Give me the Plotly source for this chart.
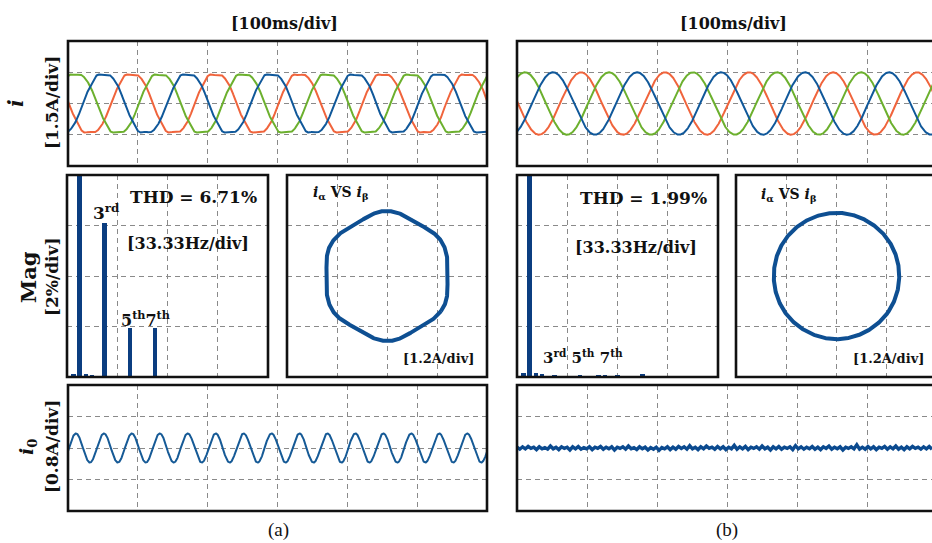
import numpy as np
import plotly.graph_objects as go

W, H = 932, 543

# ---------------- data ----------------
TIME_RANGE_MS = [0, 600]          # 6 div x 100 ms/div
F1_HZ = 8.33                      # 5 cycles over 600 ms
I1_PEAK_A = 1.5                   # phase current amplitude (1 div at 1.5 A/div)
PHASE_A_PEAK_MS = 11.4            # first peak of the green trace
PHASE_NAMES = ["a", "b", "c"]
PHASE_COLORS = ["#6cb02e", "#10589a", "#f0643c"]
HARM_ORDERS = [1, 3, 5, 7]
HARM_PCT_A = [100, 6.1, 1.95, 1.95]
HARM_PCT_B = [100, 0.08, 0.08, 0.08]
HARM_PHASE_DEG = [0, 180, 140, 220]

SPEC_A_FREQ_HZ = [4.17, 8.33, 12.5, 16.67, 25.0, 41.67, 58.33]
SPEC_A_MAG_PCT = [0.12, 100, 0.10, 0.09, 6.1, 1.95, 1.95]
SPEC_B_FREQ_HZ = [4.17, 8.33, 12.5, 16.67, 25.0, 41.67, 54.17, 58.33, 66.67, 83.33]
SPEC_B_MAG_PCT = [0.15, 100, 0.15, 0.12, 0.08, 0.08, 0.08, 0.08, 0.08, 0.12]

I0_A_AMP_A = 0.37                 # zero-sequence current (a), 3rd harmonic
I0_A_PEAK_MS = 11.4
I0_B_NOISE_A = [
    0.02, -0.03, 0.03, -0.02, 0.04, -0.01, 0.02, -0.04, 0.03, -0.02, 0.01, -0.03, 0.05, -0.02, 0.02,
    -0.04, 0.03, -0.01, 0.02, -0.05, 0.03, -0.02, 0.04, -0.03, 0.01, -0.02, 0.03, -0.04, 0.02, -0.01,
    0.04, -0.03, 0.02, -0.02, 0.03, -0.05, 0.02, -0.01, 0.03, -0.03, 0.05, -0.02, 0.01, -0.04, 0.03,
    -0.02, 0.02, -0.05, 0.01, -0.03, 0.02, -0.06, 0.01, -0.02, 0.03, -0.04, 0.02, -0.03, 0.04, -0.01,
    0.03, -0.03, 0.06, -0.02, 0.02, -0.04, 0.03, -0.02, 0.05, -0.01, 0.02, -0.03, 0.04, -0.02, 0.03,
    -0.04, 0.02, -0.02, 0.07, -0.03, 0.03, -0.02, 0.04, -0.04, 0.02, -0.01, 0.03, -0.03, 0.05, -0.02,
    0.02, -0.05, 0.03, -0.02, 0.04, -0.03, 0.02, -0.01, 0.03, -0.04, 0.06, -0.02, 0.03, -0.03, 0.02,
    -0.02, 0.04, -0.03, 0.02, -0.04, 0.03, -0.01, 0.05, -0.03, 0.02, -0.02, 0.03, -0.05, 0.02, -0.01,
    0.03, -0.02, 0.08, -0.03, 0.02, -0.03, 0.04, -0.02, 0.03, -0.04, 0.02, -0.01, 0.04, -0.03, 0.03,
    -0.02, 0.05, -0.03, 0.02, -0.04, 0.03, -0.02, 0.04, -0.01, 0.02, -0.03, 0.03, -0.02, 0.04, -0.03,
]

# ---------------- signal reconstruction from the harmonic table ----------------
t_ms = np.linspace(TIME_RANGE_MS[0], TIME_RANGE_MS[1], 2401)
t_per = np.linspace(0, 1000.0 / F1_HZ, 721)


def phase_currents(t, pct):
    theta = 2 * np.pi * F1_HZ * (t - PHASE_A_PEAK_MS) / 1000.0
    out = []
    for k in range(3):
        th = theta - 2 * np.pi * k / 3
        s = np.zeros_like(t)
        for n, p, ph in zip(HARM_ORDERS, pct, HARM_PHASE_DEG):
            s += I1_PEAK_A * p / 100.0 * np.cos(n * th + np.radians(ph))
        out.append(s)
    return out


def clarke(ia, ib, ic):
    return (2.0 / 3.0) * (ia - 0.5 * ib - 0.5 * ic), (ib - ic) / np.sqrt(3)


# ---------------- pixel geometry helpers ----------------
def px(x):
    return x / W


def py(y):
    return 1 - y / H


GRID = dict(showgrid=True, gridcolor="#8a8a8a", gridwidth=1, griddash="5px,4px",
            zeroline=False, showline=False, showticklabels=False, ticks="", fixedrange=True)

fig = go.Figure()
layout_axes = {}
shapes = []


def add_axes(idx, xdom_px, ydom_px, xr, yr, xdt, ydt, frame_right=None):
    sfx = "" if idx == 1 else str(idx)
    layout_axes["xaxis" + sfx] = dict(domain=[px(xdom_px[0]), min(1.0, px(xdom_px[1]))], range=xr,
                                      dtick=xdt, tick0=0, anchor="y" + sfx, **GRID)
    layout_axes["yaxis" + sfx] = dict(domain=[py(ydom_px[1]), py(ydom_px[0])], range=yr,
                                      dtick=ydt, tick0=0, anchor="x" + sfx, **GRID)
    right = frame_right if frame_right is not None else xdom_px[1]
    shapes.append(dict(type="rect", xref="paper", yref="paper",
                       x0=px(xdom_px[0]), x1=px(right), y0=py(ydom_px[1]), y1=py(ydom_px[0]),
                       line=dict(color="#111111", width=2.6), layer="above"))
    return ("x" + sfx, "y" + sfx)


# right-hand panels run past the picture edge
B_LEFT, B_RIGHT_FULL = 517, 937
vis_ms = 600 * (W - B_LEFT) / (B_RIGHT_FULL - B_LEFT)
L_LEFT, L_RIGHT_FULL = 736, 937
vis_a = -2.4 + 4.8 * (W - L_LEFT) / (L_RIGHT_FULL - L_LEFT)

ax_top_a = add_axes(1, (68, 487), (41, 166), [0, 600], [-3, 3], 100, 1.5)
ax_top_b = add_axes(2, (B_LEFT, W), (41, 166), [0, vis_ms], [-3, 3], 100, 1.5, B_RIGHT_FULL + 3)
ax_sp_a = add_axes(3, (67, 268), (175, 377), [0, 133.33], [0, 8], 33.333, 2)
ax_li_a = add_axes(4, (287, 487), (175, 377), [-2.4, 2.4], [-2.4, 2.4], 1.2, 1.2)
ax_sp_b = add_axes(5, (517, 718), (175, 377), [0, 133.33], [0, 8], 33.333, 2)
ax_li_b = add_axes(6, (L_LEFT, W), (175, 377), [-2.4, vis_a], [-2.4, 2.4], 1.2, 1.2, L_RIGHT_FULL + 3)
ax_bt_a = add_axes(7, (68, 487), (385, 511), [0, 600], [-1.6, 1.6], 100, 0.8)
ax_bt_b = add_axes(8, (B_LEFT, W), (385, 511), [0, vis_ms], [-1.6, 1.6], 100, 0.8, B_RIGHT_FULL + 3)

# ---------------- traces ----------------
for (xa, ya), pct in ((ax_top_a, HARM_PCT_A), (ax_top_b, HARM_PCT_B)):
    cur = phase_currents(t_ms, pct)
    for k in (2, 0, 1):
        fig.add_trace(go.Scatter(x=t_ms, y=cur[k], mode="lines", xaxis=xa, yaxis=ya,
                                 line=dict(color=PHASE_COLORS[k], width=2), showlegend=False,
                                 name=f"i{PHASE_NAMES[k]}"))

for (xa, ya), f, m in ((ax_sp_a, SPEC_A_FREQ_HZ, SPEC_A_MAG_PCT), (ax_sp_b, SPEC_B_FREQ_HZ, SPEC_B_MAG_PCT)):
    fig.add_trace(go.Bar(x=f, y=m, width=3.0, xaxis=xa, yaxis=ya,
                         marker=dict(color="#0b3d80", line=dict(width=0)), showlegend=False))

for (xa, ya), pct in ((ax_li_a, HARM_PCT_A), (ax_li_b, HARM_PCT_B)):
    ia, ib, ic = phase_currents(t_per, pct)
    al, be = clarke(ia, ib, ic)
    fig.add_trace(go.Scatter(x=al, y=be, mode="lines", xaxis=xa, yaxis=ya,
                             line=dict(color="#0e4f92", width=4), showlegend=False))

theta0 = 2 * np.pi * F1_HZ * (t_ms - I0_A_PEAK_MS) / 1000.0
i0_a = I0_A_AMP_A * np.cos(3 * theta0)
fig.add_trace(go.Scatter(x=t_ms, y=i0_a, mode="lines", xaxis=ax_bt_a[0], yaxis=ax_bt_a[1],
                         line=dict(color="#165a96", width=2), showlegend=False))
t_noise = np.linspace(0, vis_ms, len(I0_B_NOISE_A))
fig.add_trace(go.Scatter(x=t_noise, y=I0_B_NOISE_A, mode="lines", xaxis=ax_bt_b[0], yaxis=ax_bt_b[1],
                         line=dict(color="#0b4a8f", width=3.4), showlegend=False))

# ---------------- text ----------------
BOLD = "DejaVu Serif"
REG = "Liberation Serif"
ann = []


def text(x, y, s, size, angle=0, family=BOLD):
    ann.append(dict(x=px(x), y=py(y), xref="paper", yref="paper", text=s, showarrow=False,
                    xanchor="center", yanchor="middle", textangle=angle,
                    font=dict(family=family, size=size, color="#111111")))


text(284, 23, "<b>[100ms/div]</b>", 16)
text(733, 23, "<b>[100ms/div]</b>", 16)

text(16, 103, "<b><i>i</i></b>", 20, -90)
text(52, 103, "<b>[1.5A/div]</b>", 17, -90)
text(28, 277, "<b>Mag</b>", 21, -90)
text(52, 277, "<b>[2%/div]</b>", 17, -90)
text(27, 447, "<b><i>i</i><sub>0</sub></b>", 19, -90)
text(52, 447, "<b>[0.8A/div]</b>", 17, -90)

text(193, 197, "<b>THD = 6.71%</b>", 17)
text(188, 243, "<b>[33.33Hz/div]</b>", 16)
text(106, 212, "<b>3<sup>rd</sup></b>", 17)
text(145, 319, "<b>5<sup>th</sup>7<sup>th</sup></b>", 16)
text(340, 193, "<b><i>i</i><sub>α</sub> VS <i>i</i><sub>β</sub></b>", 14)
text(438, 358, "<b>[1.2A/div]</b>", 13)

text(643, 198, "<b>THD = 1.99%</b>", 17)
text(636, 247, "<b>[33.33Hz/div]</b>", 16)
text(583, 357, "<b>3<sup>rd</sup> 5<sup>th</sup> 7<sup>th</sup></b>", 15)
text(788, 195, "<b><i>i</i><sub>α</sub> VS <i>i</i><sub>β</sub></b>", 14)
text(888, 358, "<b>[1.2A/div]</b>", 13)

text(278, 530, "(a)", 19, family=REG)
text(727, 530, "(b)", 19, family=REG)

fig.update_layout(
    width=W, height=H, autosize=False,
    margin=dict(l=0, r=0, t=0, b=0, pad=0),
    paper_bgcolor="white", plot_bgcolor="white",
    shapes=shapes, annotations=ann, bargap=0,
    **layout_axes,
)

fig.write_html("out.html", config={"displayModeBar": False},
               post_script="document.body.style.margin='0';document.body.style.overflow='hidden';")
